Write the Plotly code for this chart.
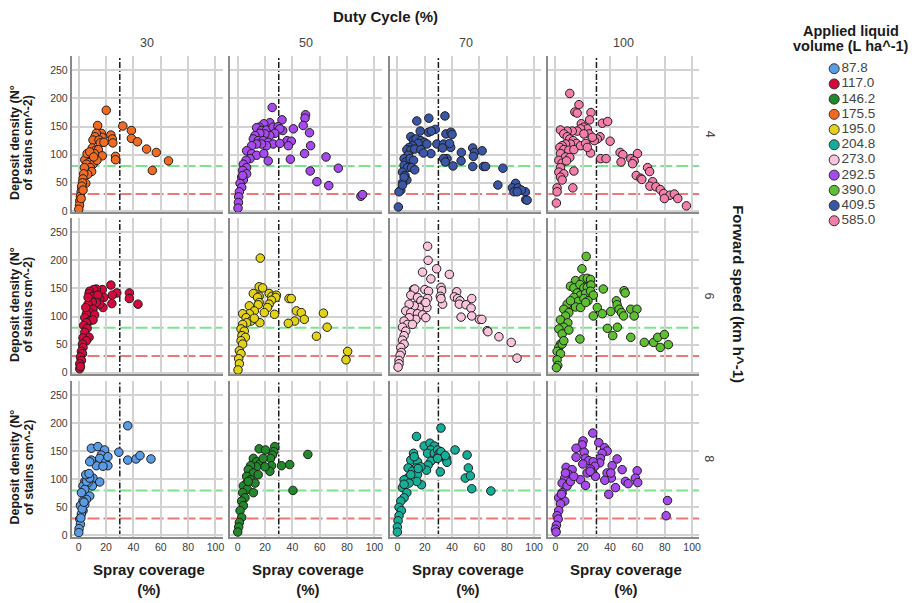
import numpy as np
import plotly.graph_objects as go

# ---------------- data ----------------
duty_cycles = ["30", "50", "70", "100"]
speeds = ["4", "6", "8"]
volumes = ["87.8", "117.0", "146.2", "175.5", "195.0", "204.8", "273.0", "292.5", "390.0", "409.5", "585.0"]
volume_colors = ["#5A9BE6", "#D6083C", "#23882B", "#F26B22", "#E3D317", "#15AE98",
                 "#F9C4DC", "#A64AEE", "#5FBF33", "#3A56A6", "#F47EAA"]

# applied volume for each (speed row, duty-cycle column)
panel_volume = [["175.5", "292.5", "409.5", "585.0"],
                ["117.0", "195.0", "273.0", "390.0"],
                ["87.8", "146.2", "204.8", "292.5"]]

# spray coverage (%) and deposit density (stains cm^-2) per panel
cov_s4_dc30 = [20.1,13.8,32.2,38.5,38.5,42.9,49.6,56.7,65.6,53.8,23.5,24.5,24.9,26.9,26.9,16.5,17.0,12.8,11.9,10.4,
               14.8,15.7,18.4,9.9,12.3,14.3,17.2,11.4,9.4,7.0,4.4,7.5,10.4,13.3,5.6,8.5,9.4,6.5,4.1,3.6,
               3.1,5.1,2.7,2.2,1.7,1.2,0.7,0.5,0.0,2.2,3.1,1.7,6.1,8.0,10.9]
den_s4_dc30 = [179,152,151,143,129,123,110,104,89,72,135,128,121,97,91,138,131,138,132,126,
               126,121,122,112,108,109,98,102,95,92,91,86,83,90,83,77,70,65,77,66,
               57,49,50,42,34,26,18,10,3,44,37,22,102,105,96]

cov_s4_dc50 = [25.2,32.4,49.6,49.2,47.9,40.7,32.9,52.5,36.1,39.2,37.0,53.3,48.9,38.5,64.6,73.6,53.0,57.9,66.6,90.1,91.3,
               23.5,19.1,15.7,13.8,17.4,21.1,25.9,29.5,30.8,27.1,23.5,19.9,16.2,12.6,11.4,15.0,18.6,22.3,25.9,30.8,
               21.1,17.4,13.8,10.2,6.5,10.2,13.8,19.1,22.3,9.0,6.1,4.1,6.5,3.6,6.5,2.9,4.1,1.7,2.9,1.2,0.7,0.5,0.2,3.6]
den_s4_dc50 = [184,162,171,165,152,146,143,139,125,124,116,116,102,92,96,76,71,52,45,26,29,
               157,155,149,148,143,144,149,150,146,138,134,137,138,134,128,125,125,122,119,120,
               116,119,119,116,107,102,99,102,89,93,90,83,77,72,66,60,55,49,42,34,25,15,5,63]

cov_s4_dc70 = [34.8,23.0,14.2,27.7,22.8,24.8,16.7,35.5,39.2,40.0,28.9,33.8,33.1,39.0,38.2,46.8,55.1,56.4,55.6,62.0,
               36.3,33.8,35.0,40.7,46.6,55.1,63.0,64.5,77.2,73.5,86.5,84.1,88.2,85.3,93.6,93.9,94.9,90.7,87.7,
               9.8,11.8,13.7,17.2,19.6,21.6,24.5,15.2,11.0,8.6,6.9,9.8,12.7,17.2,19.1,7.8,4.9,6.1,9.3,11.8,
               4.9,7.4,10.3,12.7,3.7,5.6,6.9,3.7,2.5,1.2,0.7,4.9,3.7]
den_s4_dc70 = [169,165,160,145,140,142,142,137,140,136,119,119,112,113,120,104,112,104,97,107,
               93,93,87,80,89,79,79,79,76,46,49,41,41,34,34,20,19,37,34,
               132,126,128,125,122,119,102,120,116,113,109,108,110,109,103,99,93,87,93,90,
               81,77,77,73,69,63,55,50,37,34,7,60,46]

cov_s4_dc100 = [10.5,17.2,14.2,15.9,26.0,25.0,34.3,38.2,18.9,20.8,23.3,18.4,15.9,12.3,8.6,32.6,30.6,28.4,40.0,33.1,
                37.0,47.3,49.3,60.0,48.0,55.1,57.6,56.4,67.4,68.9,59.1,62.5,63.2,71.1,69.1,73.5,76.7,79.2,83.8,87.0,
                89.5,95.8,79.7,12.7,13.5,1.2,1.2,0.7,
                3.7,6.1,8.6,10.5,13.0,15.4,11.0,7.4,4.9,3.2,6.1,9.8,13.5,18.4,22.1,25.7,23.3,3.7,7.4,10.5,
                2.5,4.9,8.1,3.7,2.5,6.1,3.7,4.9,24.5,27.0,20.8]
den_s4_dc100 = [209,189,176,174,175,162,156,159,155,149,146,146,142,142,142,132,128,125,124,93,
                93,104,100,102,87,93,89,84,77,70,63,58,56,52,44,43,38,31,28,30,
                22,9,22,41,71,41,34,14,
                144,137,132,128,125,120,119,119,116,113,109,108,109,116,120,103,113,102,96,95,
                90,85,89,77,69,66,60,55,137,131,137]

cov_s6_dc30 = [23.5,37.0,37.0,43.3,27.8,24.5,24.2,17.2,12.8,10.9,8.0,7.5,18.4,15.3,12.3,10.4,14.0,17.7,15.3,12.8,
               9.9,6.8,10.4,8.0,11.6,5.6,4.4,8.0,10.4,5.6,3.6,6.1,4.4,7.5,3.1,5.6,2.7,3.1,1.9,2.7,
               1.2,1.9,0.7,0.7,1.2,6.8,5.1]
den_s6_dc30 = [156,142,132,122,142,138,123,148,149,148,145,141,134,131,134,136,138,116,122,125,
               126,122,113,107,103,105,98,92,94,89,84,79,72,63,62,57,51,45,38,34,
               28,22,16,7,11,134,116]

cov_s6_dc50 = [16.5,15.7,18.2,11.4,15.7,14.5,23.0,25.0,28.3,27.8,24.7,23.0,21.8,15.7,15.0,37.5,39.2,26.9,42.9,46.5,
               48.7,41.7,37.0,62.7,65.4,57.6,80.4,79.2,8.5,12.1,8.5,3.6,6.1,9.7,6.5,3.6,2.4,4.8,3.1,5.6,
               2.4,3.6,1.2,2.4,0.7,1.2,0.2,19.4,16.2,12.1]
den_s6_dc50 = [204,153,151,141,136,134,141,136,138,134,129,122,116,125,121,132,132,104,110,107,
               95,92,88,106,81,65,38,23,119,110,105,105,98,92,89,86,78,74,66,63,
               57,51,39,34,25,16,5,107,89,97]

cov_s6_dc70 = [22.1,22.5,28.7,18.4,24.5,38.0,11.8,12.7,20.1,22.8,31.9,32.4,31.4,33.1,31.9,43.4,41.7,44.1,45.8,45.3,
               50.2,54.4,53.9,46.6,54.4,60.0,61.8,65.7,66.2,74.3,83.3,87.5,
               9.8,14.7,17.2,19.6,21.6,15.9,12.3,8.6,6.1,9.8,14.7,18.4,20.8,13.5,8.6,4.9,7.4,11.0,3.7,6.1,
               4.9,3.7,4.9,2.5,2.9,2.0,1.2,1.2,0.5,22.1,20.8]
den_s6_dc70 = [225,200,185,179,167,175,148,149,148,145,152,146,136,122,132,144,135,132,128,122,
               121,132,115,99,101,95,95,75,73,64,54,26,
               138,134,128,122,116,116,119,122,110,107,105,103,98,95,98,92,86,86,81,74,
               66,58,51,45,36,31,22,16,10,132,125]

cov_s6_dc100 = [22.5,19.4,14.7,20.3,23.3,25.7,11.0,13.5,17.9,20.8,23.3,26.0,35.0,50.2,51.0,15.9,18.4,22.1,25.7,27.7,
                13.5,16.7,20.8,23.8,11.0,14.7,18.4,22.1,30.6,34.3,27.7,40.4,44.6,45.1,46.6,48.3,49.8,55.1,59.6,57.6,
                38.0,45.3,41.9,55.1,65.0,71.8,74.8,79.7,76.7,82.6,17.9,8.6,6.1,9.8,7.4,3.7,9.1,6.1,2.5,4.9,
                3.7,2.5,1.2,3.7,1.2,1.7,0.7,4.9,6.1,9.8,11.0]
den_s6_dc100 = [207,185,164,167,168,166,154,151,157,151,152,156,149,146,142,142,138,141,145,138,
                134,127,132,128,122,117,116,125,116,105,101,109,128,121,113,107,101,113,113,101,
                79,81,66,63,54,54,63,68,45,50,60,122,113,107,101,94,89,81,78,69,
                51,45,38,34,23,13,9,51,57,76,128]

cov_s8_dc30 = [35.8,29.3,35.8,41.9,44.8,52.8,9.2,14.0,18.9,16.5,15.3,19.6,21.3,12.8,9.2,21.3,8.0,17.7,10.4,15.3,
               9.9,4.4,6.8,3.1,8.0,5.6,4.4,1.9,3.1,4.4,1.2,3.1,1.9,0.7,1.2,0.2,0.0,5.6,8.0,5.1,7.5,2.5,1.5,3.8]
den_s8_dc30 = [195,148,134,136,142,136,155,158,152,143,137,130,124,124,134,140,131,123,102,95,
               88,96,94,88,70,64,82,76,61,55,53,44,38,29,20,12,5,96,102,108,110,47,31,59]

cov_s8_dc50 = [15.7,20.3,27.1,26.4,25.4,24.0,24.7,23.5,32.0,38.0,51.3,40.4,11.4,13.8,16.2,19.9,13.8,9.4,7.7,11.4,
               15.0,6.5,9.4,12.6,6.5,4.1,7.0,11.4,3.6,5.3,2.9,4.1,1.7,2.9,1.2,0.7,0.0,7.7,18.6]
den_s8_dc50 = [154,152,158,149,143,137,124,114,124,126,144,80,137,131,127,122,122,124,117,111,
               108,105,99,93,93,88,82,76,76,67,61,53,44,32,23,15,6,96,137]

cov_s8_dc70 = [31.9,14.0,19.6,23.8,27.0,24.5,22.1,27.0,29.4,30.6,28.9,31.9,31.4,33.8,36.0,36.3,35.0,24.5,22.5,21.3,
               29.4,42.2,51.0,51.9,49.7,53.4,54.4,68.4,11.8,9.8,14.7,17.2,13.5,7.8,11.0,14.7,17.6,14.2,7.4,4.9,
               8.6,3.7,6.9,4.9,2.5,1.2,2.9,1.2,0.5,0.0,0.0,12.3,15.2,9.8,4.9]
den_s8_dc70 = [191,176,159,164,159,152,146,146,152,146,137,149,113,139,137,130,142,132,125,116,
               137,152,143,120,102,106,83,79,146,134,131,122,120,120,114,108,90,96,102,99,
               93,85,76,67,61,50,44,35,26,15,6,140,119,108,91]

cov_s8_dc100 = [27.3,20.2,19.5,15.1,31.7,35.9,37.8,34.1,32.9,32.4,21.0,15.1,22.0,24.4,27.6,28.8,25.6,23.2,20.0,26.8,
                29.3,18.3,22.0,25.4,45.1,41.5,48.8,37.8,40.9,36.1,40.5,59.8,58.5,60.2,51.2,53.2,43.9,39.0,82.0,81.0,
                7.8,12.2,9.8,6.8,4.9,8.5,11.0,13.4,4.9,2.4,6.8,3.7,2.4,1.2,2.0,0.7,0.0,0.5,4.4,7.3]
den_s8_dc100 = [182,168,161,155,165,156,150,146,137,129,148,139,137,133,131,123,118,111,127,112,
                105,99,89,114,136,124,117,111,102,98,111,115,102,94,96,92,85,73,62,35,
                121,117,108,102,93,88,96,105,76,67,61,56,44,35,29,18,11,6,73,111]

coverage = [[cov_s4_dc30, cov_s4_dc50, cov_s4_dc70, cov_s4_dc100],
            [cov_s6_dc30, cov_s6_dc50, cov_s6_dc70, cov_s6_dc100],
            [cov_s8_dc30, cov_s8_dc50, cov_s8_dc70, cov_s8_dc100]]
density = [[den_s4_dc30, den_s4_dc50, den_s4_dc70, den_s4_dc100],
           [den_s6_dc30, den_s6_dc50, den_s6_dc70, den_s6_dc100],
           [den_s8_dc30, den_s8_dc50, den_s8_dc70, den_s8_dc100]]

x_ticks = [0, 20, 40, 60, 80, 100]
y_ticks = [0, 50, 100, 150, 200, 250]
density_low_ref = 30     # red dashed
density_high_ref = 80    # green dashed
coverage_ref = 30        # black dash-dot

# ---------------- layout geometry (pixels) ----------------
W, H = 918, 603
FONT = "Liberation Sans, Arial, Helvetica, sans-serif"
col_left = [71.7, 231.0, 391.0, 549.4]
panel_w = 151.5
row_top = [56.8, 220.0, 384.0]
panel_h = 157.0
x_range = [-5.3, 105.3]
y_range = [-2, 275]


def px_x(p):
    return p / W


def px_y(p):
    return 1 - p / H


fig = go.Figure()
layout = dict(width=W, height=H, margin=dict(l=0, r=0, t=0, b=0),
              paper_bgcolor="white", plot_bgcolor="white", showlegend=False,
              font=dict(family=FONT, color="#333333"))
shapes = []
annotations = []
color_of = dict(zip(volumes, volume_colors))

for r in range(3):
    for c in range(4):
        k = r * 4 + c + 1
        xs = "" if k == 1 else str(k)
        xname, yname = "xaxis" + xs, "yaxis" + xs
        xref, yref = "x" + xs, "y" + xs
        layout[xname] = dict(
            domain=[px_x(col_left[c]), px_x(col_left[c] + panel_w)], range=x_range,
            anchor=yref, tickvals=x_ticks, showticklabels=(r == 2),
            showgrid=True, gridcolor="#d2d2d2", gridwidth=1.5, zeroline=False,
            showline=True, linecolor="#8a8a8a", linewidth=1.5, ticks="",
            tickfont=dict(size=10.5, color="#3a3a3a", family=FONT), fixedrange=True)
        layout[yname] = dict(
            domain=[px_y(row_top[r] + panel_h), px_y(row_top[r])], range=y_range,
            anchor=xref, tickvals=y_ticks, showticklabels=(c == 0),
            showgrid=True, gridcolor="#d2d2d2", gridwidth=1.5, zeroline=False,
            showline=True, linecolor="#8a8a8a", linewidth=1.5, ticks="",
            tickfont=dict(size=10.5, color="#3a3a3a", family=FONT), fixedrange=True)

        vol = panel_volume[r][c]
        fig.add_trace(go.Scatter(
            x=coverage[r][c], y=density[r][c], mode="markers", xaxis=xref, yaxis=yref,
            cliponaxis=False, name=vol,
            marker=dict(size=8.5, color=color_of[vol], line=dict(color="#1e1e1e", width=1))))

        for val, col in [(density_high_ref, "#7CE48C"), (density_low_ref, "#EE7777")]:
            shapes.append(dict(type="line", xref=xref, yref=yref, x0=x_range[0], x1=x_range[1],
                               y0=val, y1=val, layer="below",
                               line=dict(color=col, width=2, dash="12px,4px")))
        shapes.append(dict(type="line", xref=xref, yref=yref, x0=coverage_ref,
                           x1=coverage_ref, y0=y_range[0], y1=y_range[1], layer="below",
                           line=dict(color="#1a1a1a", width=1.5, dash="6px,2px,2px,2px")))

# column headers
for c, dc in enumerate(duty_cycles):
    annotations.append(dict(text=dc, x=px_x(col_left[c] + panel_w / 2), y=px_y(43.5),
                            xref="paper", yref="paper", showarrow=False,
                            xanchor="center", yanchor="middle",
                            font=dict(size=12.5, color="#444444", family=FONT)))
    annotations.append(dict(text="<b>Spray coverage<br>(%)</b>", x=px_x(col_left[c] + panel_w / 2 + 2),
                            y=px_y(584.5), xref="paper", yref="paper", showarrow=False,
                            xanchor="center", yanchor="middle", align="center",
                            font=dict(size=15, color="#1a1a1a", family=FONT)))

annotations.append(dict(text="<b>Duty Cycle (%)</b>", x=px_x(386.7), y=px_y(16.7),
                        xref="paper", yref="paper", showarrow=False,
                        xanchor="center", yanchor="middle",
                        font=dict(size=15, color="#1a1a1a", family=FONT)))

# row labels and y titles
for r, sp in enumerate(speeds):
    cy = row_top[r] + panel_h / 2
    annotations.append(dict(text=sp, x=px_x(711), y=px_y(cy), xref="paper", yref="paper",
                            showarrow=False, textangle=90, xanchor="center", yanchor="middle",
                            font=dict(size=12.5, color="#444444", family=FONT)))
    annotations.append(dict(text="<b>Deposit density (N°</b>", x=px_x(15), y=px_y(cy + 8),
                            xref="paper", yref="paper", showarrow=False, textangle=-90,
                            xanchor="center", yanchor="middle",
                            font=dict(size=12.5, color="#1a1a1a", family=FONT)))
    annotations.append(dict(text="<b>of stains cm^-2)</b>", x=px_x(28.5), y=px_y(cy + 8),
                            xref="paper", yref="paper", showarrow=False, textangle=-90,
                            xanchor="center", yanchor="middle",
                            font=dict(size=12.5, color="#1a1a1a", family=FONT)))

annotations.append(dict(text="<b>Forward speed (km h^-1)</b>", x=px_x(740), y=px_y(297),
                        xref="paper", yref="paper", showarrow=False, textangle=90,
                        xanchor="center", yanchor="middle",
                        font=dict(size=15, color="#1a1a1a", family=FONT)))

# legend (drawn in its own small axis)
annotations.append(dict(text="<b>Applied liquid</b>", x=px_x(853), y=px_y(31.7),
                        xref="paper", yref="paper", showarrow=False,
                        xanchor="center", yanchor="middle",
                        font=dict(size=14.5, color="#1a1a1a", family=FONT)))
annotations.append(dict(text="<b>volume (L ha^-1)</b>", x=px_x(853), y=px_y(46.7),
                        xref="paper", yref="paper", showarrow=False,
                        xanchor="center", yanchor="middle",
                        font=dict(size=14.5, color="#1a1a1a", family=FONT)))

leg_top, leg_bottom, leg_step, leg_first = 60.0, 232.0, 15.33, 69.3
leg_idx = -np.arange(len(volumes))
layout["xaxis13"] = dict(domain=[px_x(826), px_x(910)], range=[0, 84], visible=False,
                         anchor="y13", fixedrange=True)
layout["yaxis13"] = dict(domain=[px_y(leg_bottom), px_y(leg_top)],
                         range=[-(leg_bottom - leg_first) / leg_step, (leg_first - leg_top) / leg_step],
                         visible=False, anchor="x13", fixedrange=True)
fig.add_trace(go.Scatter(
    x=np.full(len(volumes), 10.0), y=leg_idx, xaxis="x13", yaxis="y13", mode="markers+text",
    text=volumes, textposition="middle right", cliponaxis=False,
    textfont=dict(size=13.5, color="#444444", family=FONT),
    marker=dict(size=10, color=volume_colors, line=dict(color="#333333", width=1))))

layout["shapes"] = shapes
layout["annotations"] = annotations
fig.update_layout(**layout)
fig.write_html("out.html")
